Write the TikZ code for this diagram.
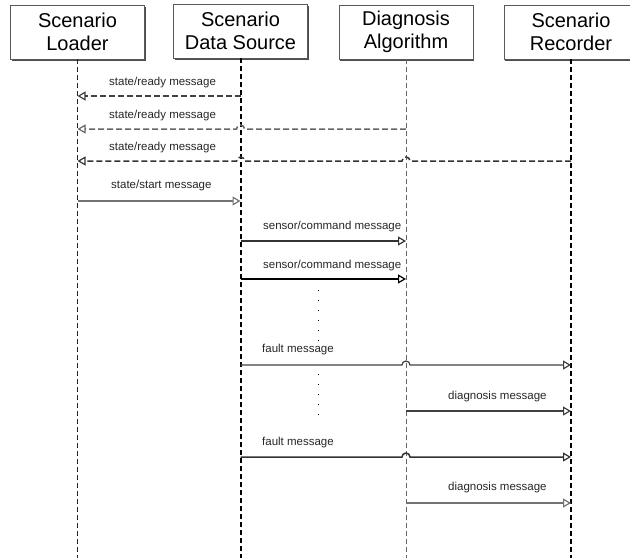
\documentclass[tikz,border=0pt]{standalone}
\usepackage{fontspec}
\setmainfont{Liberation Sans}
\usetikzlibrary{arrows.meta,shadows,calc}
\tikzset{
  actor/.style={draw=black!65, fill=white, minimum width=134pt, minimum height=54pt,
    align=center, font=\fontsize{20}{23}\selectfont,
    drop shadow={shadow xshift=1pt, shadow yshift=-1.5pt, fill=black!70, opacity=1}},
  life/.style={dash pattern=on 5pt off 3pt, line width=1pt},
  msg/.style={line width=1.5pt, -{Triangle[open,length=8pt,width=9pt,line width=1.2pt]}},
  reply/.style={msg, dash pattern=on 6pt off 3pt},
  lbl/.style={font=\fontsize{11.5}{13}\selectfont, anchor=west, inner sep=0pt, text=black!85},
}
\begin{document}
\begin{tikzpicture}[x=1pt,y=-1pt]
\useasboundingbox (0,0) rectangle (630,558);
% the four participants
\node[actor] (loader) at (77.5,32) {Scenario\\Loader};
\node[actor] (source) at (240.5,31) {Scenario\\Data Source};
\node[actor] (diag) at (406,32) {Diagnosis\\Algorithm};
\node[actor] (rec) at (571,32) {Scenario\\Recorder};
% lifelines
\draw[life, draw=black!85] (loader.south) -- (loader |- 0,558);
\draw[life, line width=2pt] (source.south) -- (source |- 0,558);
\draw[life, draw=black!60] (diag.south) -- (diag |- 0,558);
\draw[life, line width=2pt] (rec.south) -- (rec |- 0,558);
% ready messages back to the loader
\draw[reply, draw=black!75] (source |- 0,96) -- (loader |- 0,96);
\draw[reply, draw=black!60] (diag |- 0,129) -- ($(source |- 0,129)+(4,0)$)
  arc[start angle=0, end angle=-180, radius=4] -- (loader |- 0,129);
\draw[reply, draw=black!80] (rec |- 0,161) -- ($(diag |- 0,161)+(4,0)$)
  arc[start angle=0, end angle=-180, radius=4] -- ($(source |- 0,161)+(4,0)$)
  arc[start angle=0, end angle=-180, radius=4] -- (loader |- 0,161);
\node[lbl] (l1) at (109,83) {state/ready message};
\node[lbl] (l2) at (109,116) {state/ready message};
\node[lbl] (l3) at (109,148) {state/ready message};
% start and sensor data
\draw[msg, draw=black!55] (loader |- 0,201) -- (source |- 0,201);
\draw[msg, draw=black!80] (source |- 0,241) -- (diag |- 0,241);
\draw[msg, draw=black] (source |- 0,279) -- (diag |- 0,279);
\node[lbl] (l4) at (111,186) {state/start message};
\node[lbl] (l5) at (263,227) {sensor/command message};
\node[lbl] (l6) at (263,266) {sensor/command message};
% faults and diagnoses
\draw[msg, draw=black!75, line width=1.2pt] (source |- 0,365) -- ($(diag |- 0,365)+(-4,0)$)
  arc[start angle=180, end angle=360, radius=4] -- (rec |- 0,365);
\draw[msg, draw=black!75] (diag |- 0,411) -- (rec |- 0,411);
\draw[msg, draw=black!80] (source |- 0,457) -- ($(diag |- 0,457)+(-4,0)$)
  arc[start angle=180, end angle=360, radius=4] -- (rec |- 0,457);
\draw[msg, draw=black!55] (diag |- 0,503) -- (rec |- 0,503);
\node[lbl] (l7) at (262,350) {fault message};
\node[lbl] (l8) at (448,397) {diagnosis message};
\node[lbl] (l9) at (262,443) {fault message};
\node[lbl] (l10) at (448,488) {diagnosis message};
% dots
\draw[line width=1pt, dash pattern=on 1pt off 9pt] (318,290) -- (318,342);
\draw[line width=1pt, dash pattern=on 1pt off 9pt] (318,374) -- (318,422);
\end{tikzpicture}
\end{document}
